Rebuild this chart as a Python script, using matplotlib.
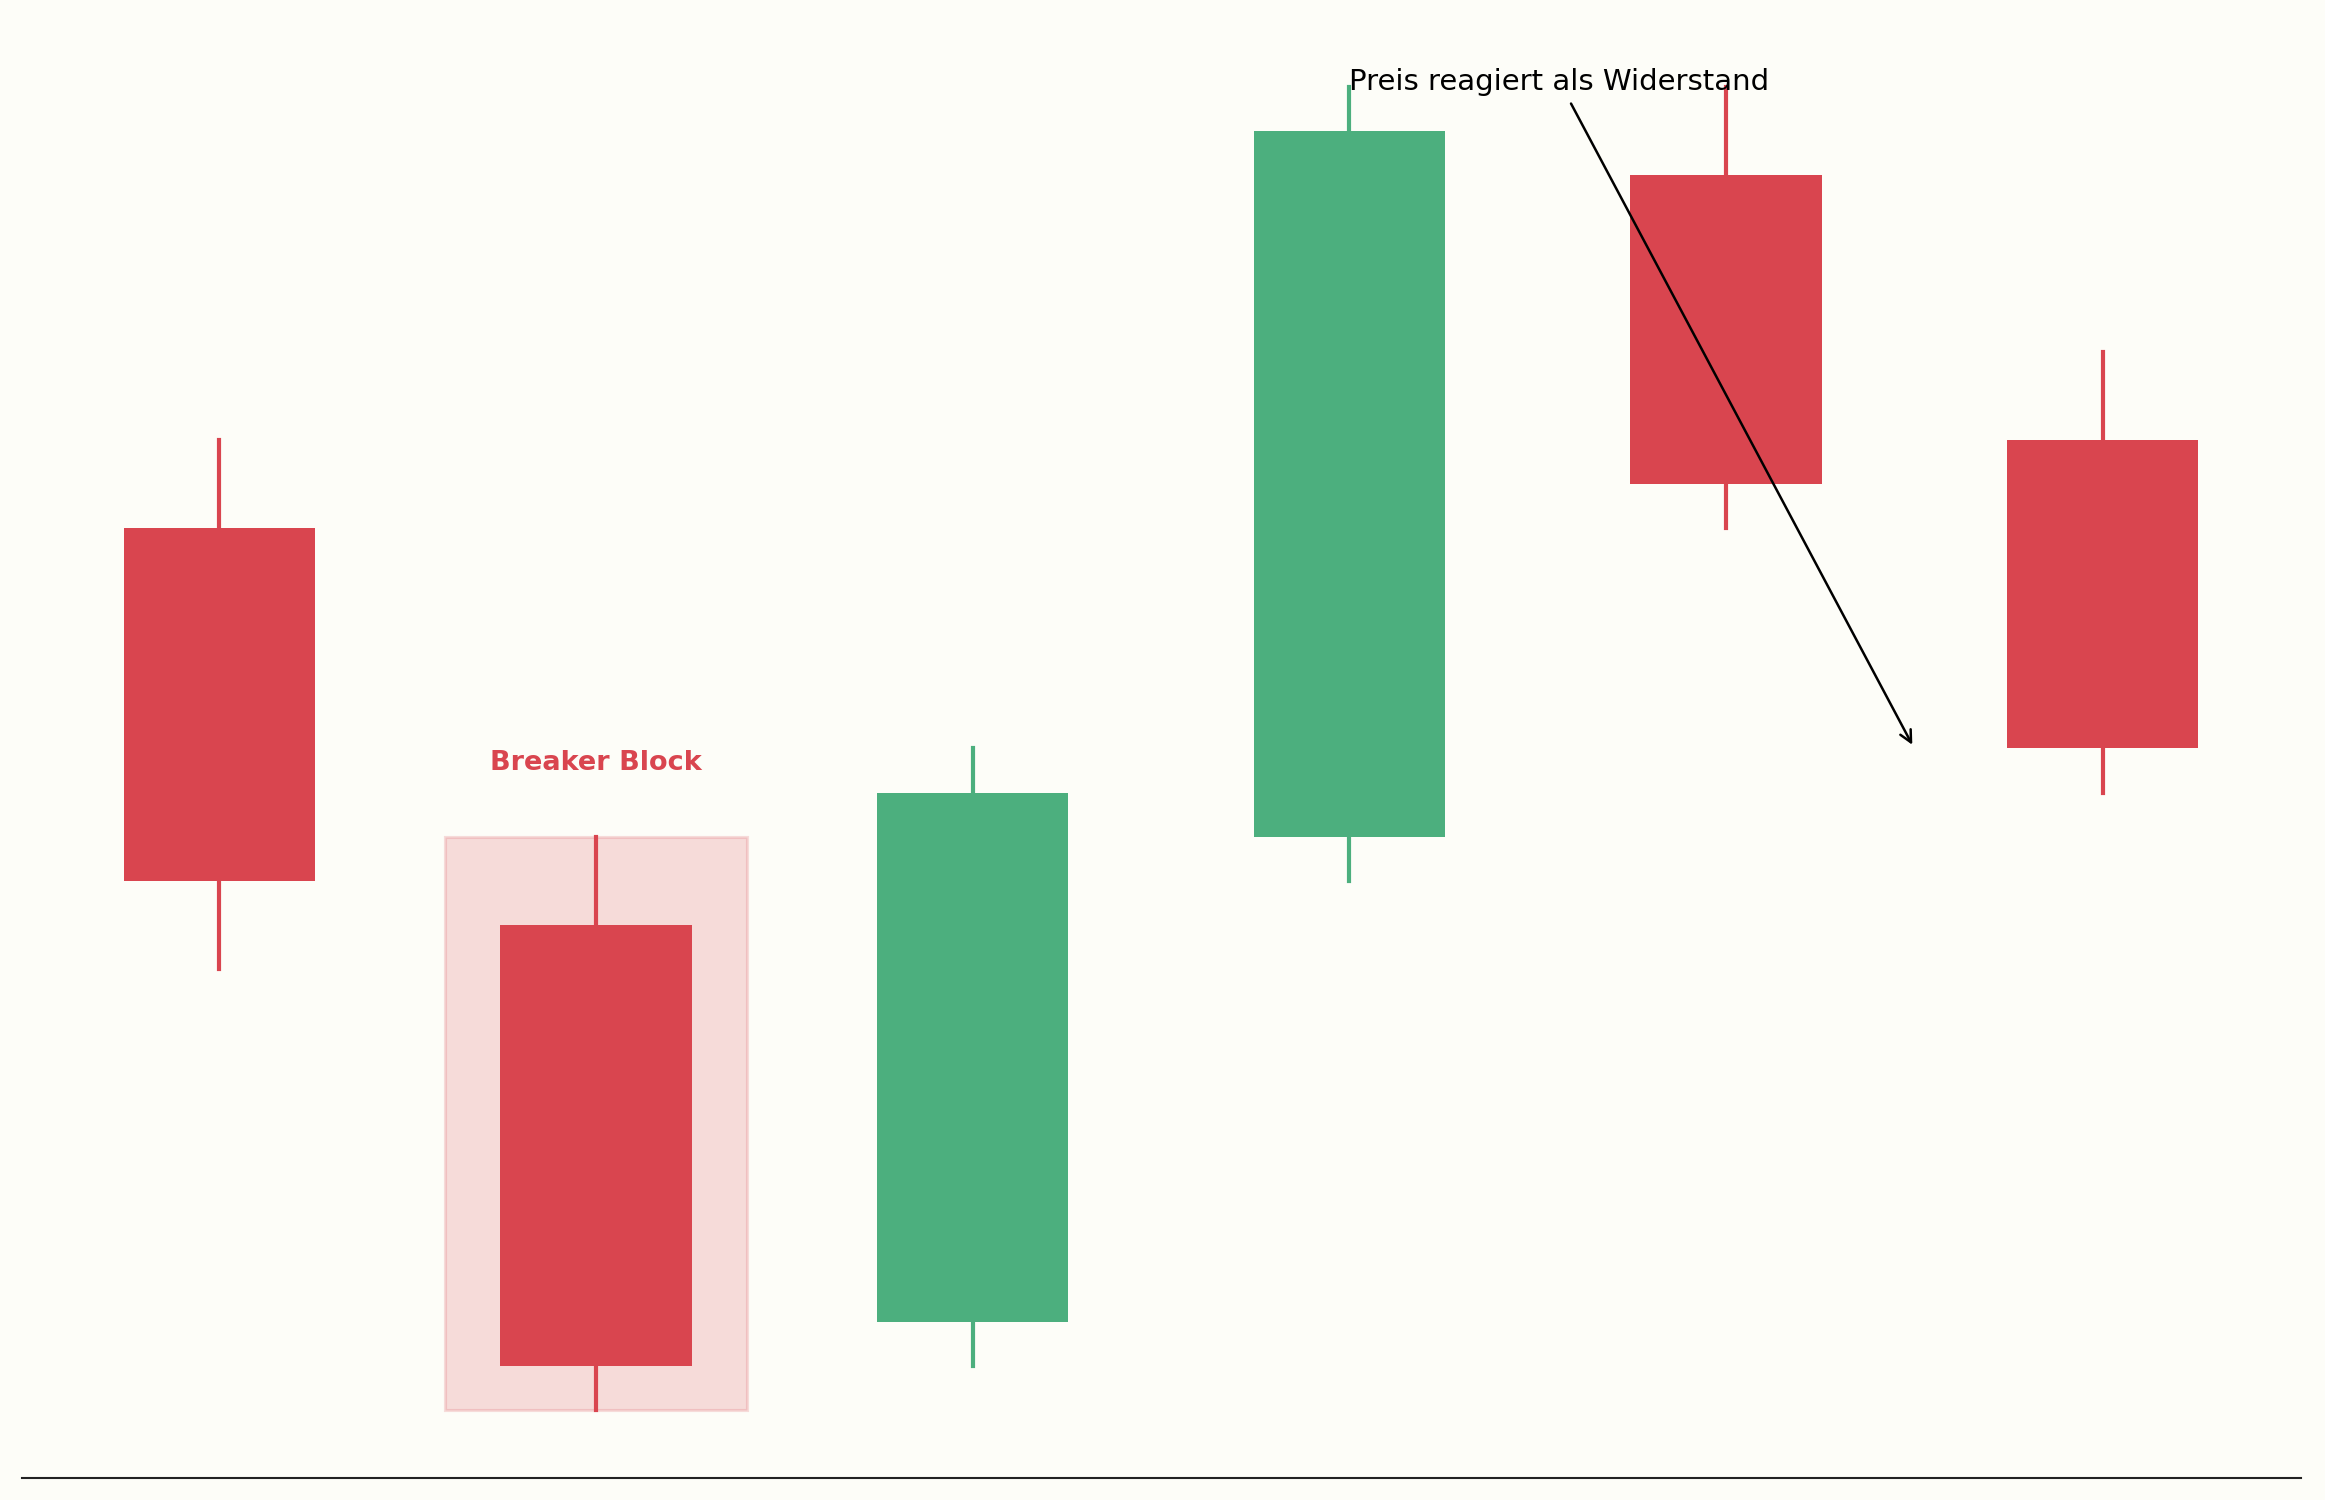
import matplotlib
matplotlib.use('Agg')
import matplotlib.pyplot as plt
from matplotlib.patches import Rectangle

# candle data (index, open, high, low, close)
opens = [120, 111, 102, 113, 128, 122]
highs = [122, 113, 115, 130, 130, 124]
lows = [110, 100, 101, 112, 120, 114]
closes = [112, 101, 114, 129, 121, 115]

block_idx = 1           # breaker block candle
block_label = 'Breaker Block'
note_text = 'Preis reagiert als Widerstand'
note_target = (4.5, 115)

red = '#d9454f'
green = '#4caf7e'
bg = '#fdfdf8'

fig = plt.figure(figsize=(15.5, 10), dpi=150, facecolor=bg)
ax = fig.add_axes([0.0095, 0.0147, 0.9802, 0.9853])
ax.set_facecolor(bg)

w = 0.508
for i in range(len(opens)):
    o, h, l, c = opens[i], highs[i], lows[i], closes[i]
    col = green if c >= o else red
    ax.plot([i, i], [l, h], color=col, lw=2, zorder=2)
    ax.add_patch(Rectangle((i - w / 2, min(o, c)), w, abs(c - o),
                           facecolor=col, edgecolor='none', zorder=3))

# breaker block highlight
ax.add_patch(Rectangle((block_idx - 0.4, lows[block_idx]), 0.8,
                       highs[block_idx] - lows[block_idx],
                       facecolor=red, alpha=0.18, edgecolor=red, lw=1.5, zorder=1))
ax.text(block_idx, highs[block_idx] + 1.68, block_label, color=red,
        fontsize=13, fontweight='bold', ha='center', va='center')

ax.annotate(note_text, xy=note_target, xytext=(3, 129.8),
            ha='left', va='bottom', fontsize=14,
            arrowprops=dict(arrowstyle='->', color='black', lw=1.2))

ax.set_xlim(-0.524, 5.527)
ax.set_ylim(98.46, 131.97)
for s in ['top', 'right', 'left']:
    ax.spines[s].set_visible(False)
ax.spines['bottom'].set_color('#222222')
ax.spines['bottom'].set_linewidth(1.0)
ax.set_xticks([])
ax.set_yticks([])

fig.savefig('out.png', dpi=150, facecolor=bg)
